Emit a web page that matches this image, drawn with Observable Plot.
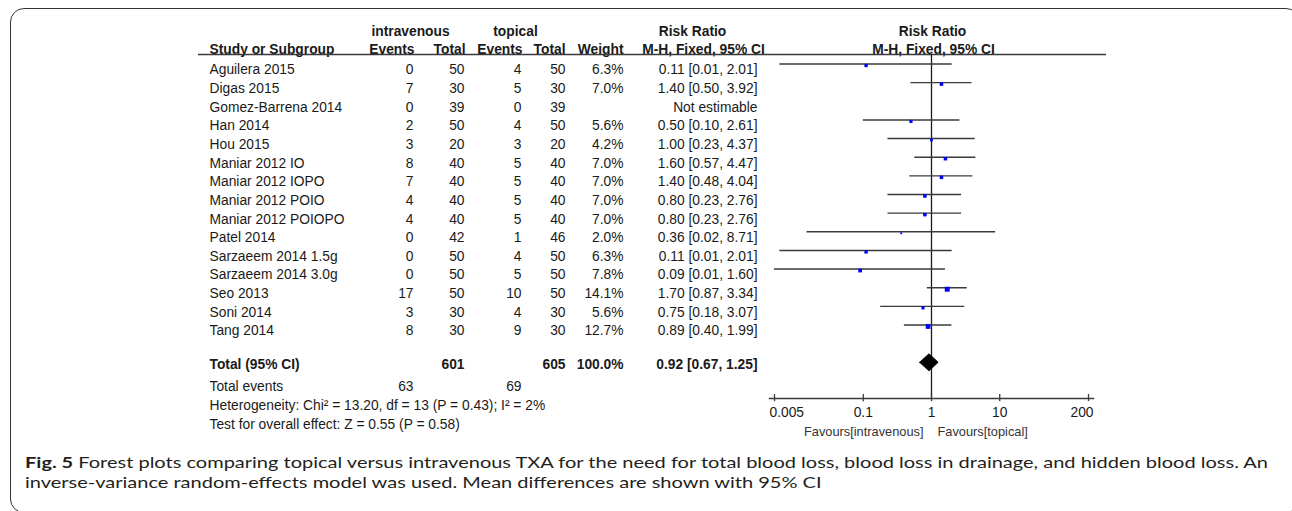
<!DOCTYPE html>
<html>
<head>
<meta charset="utf-8">
<script src="https://cdn.jsdelivr.net/npm/d3@7"></script>
<script src="https://cdn.jsdelivr.net/npm/@observablehq/plot@0.6"></script>
<style>
  html, body { margin: 0; padding: 0; background: #fff; }
  body { width: 1292px; height: 511px; overflow: hidden; position: relative; }
  #box { position: absolute; left: 10px; top: 8px; width: 1290px; height: 505px; box-sizing: border-box;
         border: 1.6px solid #333; border-radius: 14px; }
  #chart { position: absolute; left: 0; top: 0; }
  #caption { position: absolute; left: 25px; top: 452px; font-family: Lato, "Open Sans", sans-serif; font-size: 16px;
             color: #231f20; line-height: 20px; white-space: nowrap; transform-origin: 0 0; }
  #caption span { display: inline-block; }
  #caption b { font-weight: 700; }
  svg text { font-family: "Liberation Sans", Arial, sans-serif; }
</style>
</head>
<body>
<div id="box"></div>
<div id="chart"></div>
<div id="caption"><span id="cap1"><b>Fig. 5</b> Forest plots comparing topical versus intravenous TXA for the need for total blood loss, blood loss in drainage, and hidden blood loss. An</span><br><span>inverse-variance random-effects model was used. Mean differences are shown with 95% CI</span></div>
<script>
// ---------- data ----------
const studies = ["Aguilera 2015", "Digas 2015", "Gomez-Barrena 2014", "Han 2014", "Hou 2015", "Maniar 2012 IO",
  "Maniar 2012 IOPO", "Maniar 2012 POIO", "Maniar 2012 POIOPO", "Patel 2014", "Sarzaeem 2014 1.5g",
  "Sarzaeem 2014 3.0g", "Seo 2013", "Soni 2014", "Tang 2014"];
const ivEvents  = [0, 7, 0, 2, 3, 8, 7, 4, 4, 0, 0, 0, 17, 3, 8];
const ivTotal   = [50, 30, 39, 50, 20, 40, 40, 40, 40, 42, 50, 50, 50, 30, 30];
const topEvents = [4, 5, 0, 4, 3, 5, 5, 5, 5, 1, 4, 5, 10, 4, 9];
const topTotal  = [50, 30, 39, 50, 20, 40, 40, 40, 40, 46, 50, 50, 50, 30, 30];
const weights   = [6.3, 7.0, null, 5.6, 4.2, 7.0, 7.0, 7.0, 7.0, 2.0, 6.3, 7.8, 14.1, 5.6, 12.7];
const riskRatio = [0.11, 1.40, null, 0.50, 1.00, 1.60, 1.40, 0.80, 0.80, 0.36, 0.11, 0.09, 1.70, 0.75, 0.89];
const ciLower   = [0.01, 0.50, null, 0.10, 0.23, 0.57, 0.48, 0.23, 0.23, 0.02, 0.01, 0.01, 0.87, 0.18, 0.40];
const ciUpper   = [2.01, 3.92, null, 2.61, 4.37, 4.47, 4.04, 2.76, 2.76, 8.71, 2.01, 1.60, 3.34, 3.07, 1.99];
// lower whisker ends as drawn in the picture (the printed values are rounded)
const ciLowerDrawn = [0.006, 0.50, null, 0.10, 0.23, 0.57, 0.48, 0.23, 0.23, 0.015, 0.006, 0.005, 0.87, 0.18, 0.40];
const totalLabel = "Total (95% CI)";
const totalIv = 601, totalTop = 605, totalWeight = "100.0%";
const totalRR = 0.92, totalLower = 0.67, totalUpper = 1.25;
const totalEventsIv = 63, totalEventsTop = 69;
const heterogeneity = "Heterogeneity: Chi\u00B2 = 13.20, df = 13 (P = 0.43); I\u00B2 = 2%";
const overallEffect = "Test for overall effect: Z = 0.55 (P = 0.58)";
const axisTicks = [0.005, 0.1, 1, 10, 200];
const axisTickLabels = ["0.005", "0.1", "1", "10", "200"];
const favoursLeft = "Favours[intravenous]", favoursRight = "Favours[topical]";

// ---------- layout ----------
const W = 1292, H = 445;
const ML = 769, MR = 199;             // forest panel frame
const colStudy = 209, colIvE = 413, colIvT = 464, colTopE = 521, colTopT = 565, colW = 623, colCI = 757;
const fs = 13.8;
const ink = "#1a1a1a", lineInk = "#3a3a3a";
const headRow1 = -1.065, headRow2 = -0.1, headLine = 0.17;
const totalRow = 16.8, evRow = 18, hetRow = 19, testRow = 20;
const axisRow = 18.6;

const rows = studies.map((s, i) => ({
  row: i + 1, study: s, ivE: ivEvents[i], ivT: ivTotal[i], topE: topEvents[i], topT: topTotal[i],
  w: weights[i], rr: riskRatio[i], lo: ciLower[i], hi: ciUpper[i], loD: ciLowerDrawn[i]
}));
const est = rows.filter(d => d.rr != null);
const f2 = v => v.toFixed(2);
const ciText = d => d.rr == null ? "Not estimable" : `${f2(d.rr)} [${f2(d.lo)}, ${f2(d.hi)}]`;

const col = (data, value, pos, opts = {}) => Plot.text(data, {
  frameAnchor: "left", dx: pos - ML, y: "row", text: value, textAnchor: "end",
  fontSize: fs, fill: ink, ...opts
});

const headers1 = [
  {t: "intravenous", x: 410}, {t: "topical", x: 515}, {t: "Risk Ratio", x: 692}
];
const headers2 = [
  {t: "Study or Subgroup", x: colStudy, a: "start"}, {t: "Events", x: colIvE + 1, a: "end"},
  {t: "Total", x: colIvT + 1, a: "end"}, {t: "Events", x: colTopE + 1, a: "end"},
  {t: "Total", x: colTopT, a: "end"}, {t: "Weight", x: colW, a: "end"},
  {t: "M-H, Fixed, 95% CI", x: 703, a: "middle"}
];

const diamondH = 0.456;
const dRow = totalRow - 0.12;
const diamond = [
  {x: totalLower, y: dRow}, {x: totalRR, y: dRow - diamondH},
  {x: totalUpper, y: dRow}, {x: totalRR, y: dRow + diamondH},
  {x: totalLower, y: dRow}
];

const forestDy = -6;
const tickHalf = 0.19;
const ticks = axisTicks.map((v, i) => ({v, label: axisTickLabels[i]}));
const tickLabelRow = axisRow + 0.8;

const plot = Plot.plot({
  width: W, height: H,
  marginLeft: ML, marginRight: MR, marginTop: 0, marginBottom: H - 398,
  style: {fontFamily: "Liberation Sans, Arial, sans-serif", background: "transparent", overflow: "visible"},
  x: {type: "log", domain: [0.005, 200], insetLeft: 5, insetRight: 5, axis: null},
  y: {type: "linear", domain: [1, 15], range: [69.5, 330.5], axis: null},
  r: {type: "sqrt", domain: [0, 14.1], range: [0, 2.8]},
  marks: [
    // header rows
    ...headers1.map(h => Plot.text([h], {frameAnchor: "left", dx: h.x - ML, y: () => headRow1, text: "t",
      textAnchor: "middle", fontWeight: "bold", fontSize: fs, fill: ink})),
    Plot.text(["Risk Ratio"], {x: () => 1, y: () => headRow1, fontWeight: "bold", fontSize: fs, fill: ink, dx: 1}),
    ...headers2.map(h => Plot.text([h], {frameAnchor: "left", dx: h.x - ML, y: () => headRow2, text: "t",
      textAnchor: h.a, fontWeight: "bold", fontSize: fs, fill: ink})),
    Plot.text(["M-H, Fixed, 95% CI"], {x: () => 1, y: () => headRow2, fontWeight: "bold", fontSize: fs, fill: ink, dx: 2}),
    Plot.ruleY([headLine], {insetLeft: -(ML - 198), insetRight: -(1106 - (W - MR)), stroke: lineInk, strokeWidth: 1.6}),

    // table body
    col(rows, "study", colStudy, {textAnchor: "start"}),
    col(rows, "ivE", colIvE), col(rows, "ivT", colIvT), col(rows, "topE", colTopE), col(rows, "topT", colTopT),
    col(rows, d => d.w == null ? "" : d.w.toFixed(1) + "%", colW),
    col(rows, ciText, colCI),

    // totals
    col([{row: totalRow}], () => totalLabel, colStudy, {textAnchor: "start", fontWeight: "bold"}),
    col([{row: totalRow}], () => totalIv, colIvT, {fontWeight: "bold"}),
    col([{row: totalRow}], () => totalTop, colTopT, {fontWeight: "bold"}),
    col([{row: totalRow}], () => totalWeight, colW, {fontWeight: "bold"}),
    col([{row: totalRow}], () => `${f2(totalRR)} [${f2(totalLower)}, ${f2(totalUpper)}]`, colCI, {fontWeight: "bold"}),
    col([{row: evRow}], () => "Total events", colStudy, {textAnchor: "start"}),
    col([{row: evRow}], () => totalEventsIv, colIvE),
    col([{row: evRow}], () => totalEventsTop, colTopE),
    col([{row: hetRow}], () => heterogeneity, colStudy, {textAnchor: "start"}),
    col([{row: testRow}], () => overallEffect, colStudy, {textAnchor: "start"}),

    // forest
    Plot.ruleX([1], {y1: headLine, y2: axisRow, stroke: ink, strokeWidth: 1.3}),
    Plot.ruleY(est, {y: "row", x1: "loD", x2: "hi", dy: forestDy, stroke: lineInk, strokeWidth: 1.4}),
    Plot.dot(est, {x: "rr", y: "row", r: "w", symbol: "square", fill: "#0000ff", dy: forestDy + 1.5}),
    Plot.line(diamond, {x: "x", y: "y", fill: "black", stroke: "black", strokeWidth: 1, curve: "linear"}),

    // axis
    Plot.frame({anchor: "bottom", stroke: lineInk, strokeWidth: 1.4}),
    Plot.ruleX(ticks, {x: "v", y1: axisRow - tickHalf, y2: axisRow + tickHalf, stroke: lineInk, strokeWidth: 1.3}),
    Plot.text(ticks.slice(0, 1), {x: "v", y: () => tickLabelRow, text: "label", textAnchor: "start", dx: -5, fontSize: fs, fill: ink}),
    Plot.text(ticks.slice(1, -1), {x: "v", y: () => tickLabelRow, text: "label", fontSize: fs, fill: ink}),
    Plot.text(ticks.slice(-1), {x: "v", y: () => tickLabelRow, text: "label", textAnchor: "end", dx: 5, fontSize: fs, fill: ink}),
    Plot.text([favoursLeft], {x: () => 1, y: () => testRow + 0.4, text: d => d, textAnchor: "end", dx: -8,
      fontSize: 12.8, fill: "#333"}),
    Plot.text([favoursRight], {x: () => 1, y: () => testRow + 0.4, text: d => d, textAnchor: "start", dx: 6,
      fontSize: 12.8, fill: "#333"})
  ]
});
document.getElementById("chart").appendChild(plot);

// stretch caption horizontally so its first line spans the same width as the reference
const cap = document.getElementById("caption");
const w1 = document.getElementById("cap1").getBoundingClientRect().width;
if (w1 > 0) cap.style.transform = `scaleX(${(1243 / w1).toFixed(4)})`;
</script>
</body>
</html>
